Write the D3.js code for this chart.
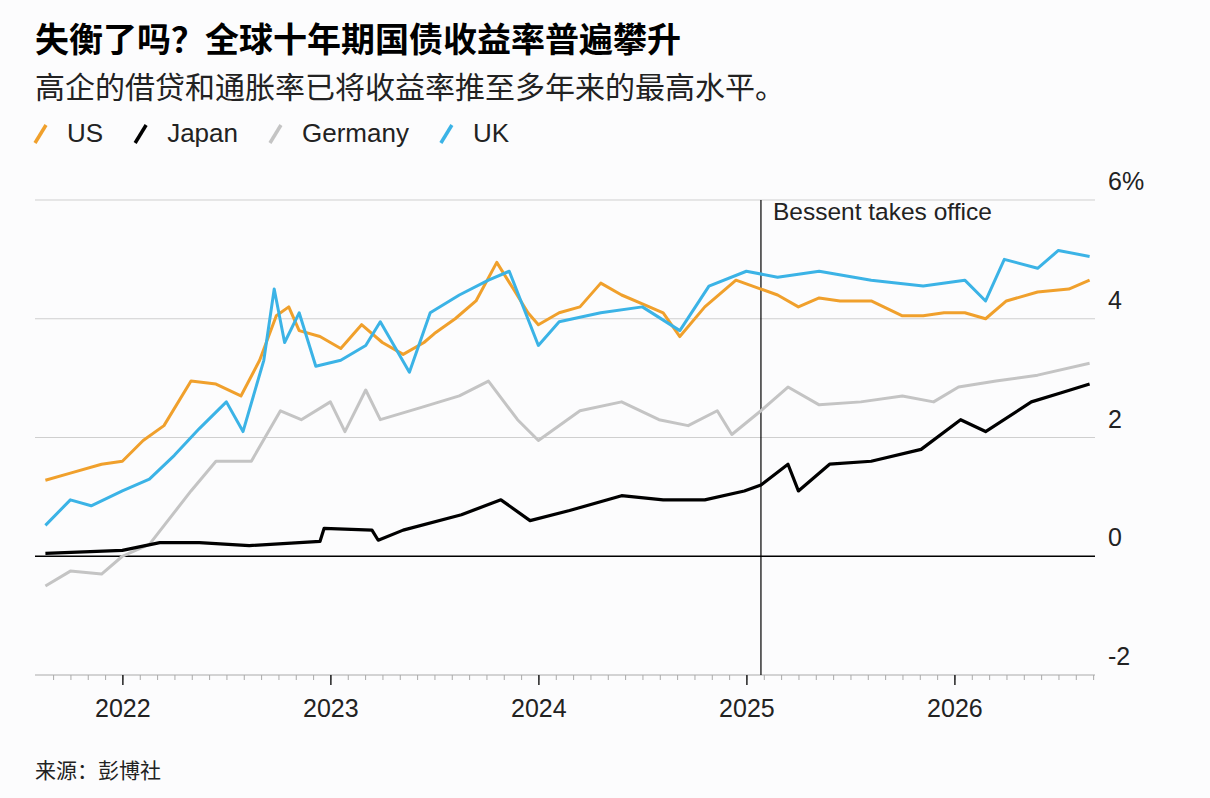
<!DOCTYPE html>
<html>
<head>
<meta charset="utf-8">
<style>
  body { margin: 0; background: #fcfcfd; }
  text { font-family: "Liberation Sans", "Noto Sans CJK SC", sans-serif; }
</style>
</head>
<body>
<script src="https://cdn.jsdelivr.net/npm/d3@7/dist/d3.min.js"></script>
<script>
// data: decimal years + 10y yields (%)
var yearTicks = [2022, 2023, 2024, 2025, 2026];
var yTicks = [6, 4, 2, 0, -2];

var usT = [2021.63, 2021.75, 2021.9, 2022.0, 2022.1, 2022.2, 2022.33, 2022.45, 2022.57, 2022.66, 2022.74, 2022.8, 2022.85, 2022.95, 2023.05, 2023.15, 2023.25, 2023.35, 2023.45, 2023.5, 2023.6, 2023.7, 2023.8, 2023.88, 2023.95, 2024.0, 2024.1, 2024.2, 2024.3, 2024.4, 2024.5, 2024.6, 2024.68, 2024.8, 2024.95, 2025.07, 2025.15, 2025.25, 2025.35, 2025.45, 2025.6, 2025.75, 2025.85, 2025.95, 2026.05, 2026.15, 2026.25, 2026.4, 2026.55, 2026.65];
var usV = [1.28, 1.4, 1.55, 1.6, 1.95, 2.2, 2.95, 2.9, 2.7, 3.3, 4.05, 4.2, 3.8, 3.7, 3.5, 3.9, 3.6, 3.4, 3.6, 3.75, 4.0, 4.3, 4.95, 4.5, 4.1, 3.9, 4.1, 4.2, 4.6, 4.4, 4.25, 4.1, 3.7, 4.2, 4.65, 4.5, 4.4, 4.2, 4.35, 4.3, 4.3, 4.05, 4.05, 4.1, 4.1, 4.0, 4.3, 4.45, 4.5, 4.65];

var ukT = [2021.63, 2021.75, 2021.85, 2022.0, 2022.13, 2022.25, 2022.37, 2022.5, 2022.58, 2022.68, 2022.73, 2022.78, 2022.85, 2022.93, 2023.05, 2023.17, 2023.24, 2023.38, 2023.48, 2023.62, 2023.76, 2023.86, 2024.0, 2024.1, 2024.3, 2024.5, 2024.68, 2024.82, 2025.0, 2025.15, 2025.35, 2025.6, 2025.85, 2026.05, 2026.15, 2026.24, 2026.4, 2026.5, 2026.65];
var ukV = [0.52, 0.95, 0.85, 1.1, 1.3, 1.7, 2.15, 2.6, 2.1, 3.3, 4.5, 3.6, 4.1, 3.2, 3.3, 3.55, 3.95, 3.1, 4.1, 4.4, 4.65, 4.8, 3.55, 3.95, 4.1, 4.2, 3.8, 4.55, 4.8, 4.7, 4.8, 4.65, 4.55, 4.65, 4.3, 5.0, 4.85, 5.15, 5.05];

var deT = [2021.63, 2021.75, 2021.9, 2022.0, 2022.13, 2022.33, 2022.45, 2022.62, 2022.76, 2022.86, 2023.0, 2023.07, 2023.17, 2023.24, 2023.43, 2023.62, 2023.76, 2023.9, 2024.0, 2024.2, 2024.4, 2024.58, 2024.72, 2024.86, 2024.93, 2025.07, 2025.2, 2025.35, 2025.55, 2025.75, 2025.9, 2026.02, 2026.2, 2026.4, 2026.65];
var deV = [-0.5, -0.25, -0.3, 0.0, 0.2, 1.1, 1.6, 1.6, 2.45, 2.3, 2.6, 2.1, 2.8, 2.3, 2.5, 2.7, 2.95, 2.3, 1.95, 2.45, 2.6, 2.3, 2.2, 2.45, 2.05, 2.45, 2.85, 2.55, 2.6, 2.7, 2.6, 2.85, 2.95, 3.05, 3.25];

var jpT = [2021.63, 2022.0, 2022.18, 2022.37, 2022.61, 2022.95, 2022.97, 2023.2, 2023.23, 2023.35, 2023.63, 2023.82, 2023.96, 2024.15, 2024.4, 2024.6, 2024.8, 2024.99, 2025.07, 2025.2, 2025.25, 2025.4, 2025.6, 2025.84, 2026.03, 2026.15, 2026.37, 2026.51, 2026.65];
var jpV = [0.05, 0.1, 0.23, 0.23, 0.18, 0.25, 0.47, 0.44, 0.27, 0.44, 0.7, 0.95, 0.6, 0.77, 1.02, 0.95, 0.95, 1.1, 1.2, 1.55, 1.1, 1.55, 1.6, 1.8, 2.3, 2.1, 2.6, 2.75, 2.9];

var series = [
  { name: "Germany", t: deT, v: deV, color: "#c4c4c4" },
  { name: "US", t: usT, v: usV, color: "#f0a02c" },
  { name: "UK", t: ukT, v: ukV, color: "#3bb3e6" },
  { name: "Japan", t: jpT, v: jpV, color: "#000000" }
];
var legendItems = [
  { name: "US", color: "#f0a02c" },
  { name: "Japan", color: "#000000" },
  { name: "Germany", color: "#c4c4c4" },
  { name: "UK", color: "#3bb3e6" }
];

var W = 1210, H = 798;
var svg = d3.select("body").append("svg").attr("width", W).attr("height", H);

var x = d3.scaleLinear().domain([2021.58, 2026.7]).range([35, 1100]);
var y = d3.scaleLinear().domain([-2, 6]).range([675, 200]);

// titles
svg.append("text").attr("x", 35).attr("y", 52).attr("font-size", "34px").attr("font-weight", "bold")
  .text("失衡了吗？全球十年期国债收益率普遍攀升");
svg.append("text").attr("x", 35).attr("y", 98).attr("font-size", "30px").attr("fill", "#222")
  .text("高企的借贷和通胀率已将收益率推至多年来的最高水平。");

// legend
var lx = 35;
legendItems.forEach(function (d) {
  svg.append("line").attr("x1", lx).attr("y1", 143).attr("x2", lx + 11).attr("y2", 125)
    .attr("stroke", d.color).attr("stroke-width", 3.5);
  var t = svg.append("text").attr("x", lx + 32).attr("y", 142).attr("font-size", "26px").attr("fill", "#222").text(d.name);
  lx += 32 + t.node().getComputedTextLength() + 32;
});

// grid
svg.append("g").selectAll("line").data(yTicks.filter(function (d) { return d !== -2; })).enter().append("line")
  .attr("x1", 35).attr("x2", 1095)
  .attr("y1", function (d) { return y(d); }).attr("y2", function (d) { return y(d); })
  .attr("stroke", function (d) { return d === 0 ? "#000" : "#cfcfcf"; })
  .attr("stroke-width", function (d) { return d === 0 ? 1.5 : 1; });

svg.append("g").selectAll("text").data(yTicks).enter().append("text")
  .attr("x", 1108)
  .attr("y", function (d) { return y(d) - 10; })
  .attr("font-size", "25px").attr("fill", "#222")
  .text(function (d) { return d === 6 ? "6%" : d; });

// x axis
var months = d3.range(2021.667, 2026.7, 1 / 12);
var xAxis = d3.axisBottom(x).tickValues(months).tickSize(5).tickFormat("");
var gx = svg.append("g").attr("transform", "translate(0,675)").call(xAxis);
gx.select(".domain").attr("stroke", "#aaa").attr("d", "M35,0H1095");
gx.selectAll(".tick line").attr("stroke", "#aaa");
var gy = svg.append("g").attr("transform", "translate(0,675)")
  .call(d3.axisBottom(x).tickValues(yearTicks).tickSize(10).tickFormat(d3.format("d")));
gy.select(".domain").remove();
gy.selectAll(".tick line").attr("stroke", "#222").attr("stroke-width", 1.5);
gy.selectAll(".tick text").attr("font-size", "25px").attr("fill", "#222").attr("dy", "1.15em")
  .attr("font-family", "Liberation Sans, sans-serif");

// event line
svg.append("line").attr("x1", x(2025.07)).attr("x2", x(2025.07)).attr("y1", 200).attr("y2", 675)
  .attr("stroke", "#000").attr("stroke-width", 1.2);
svg.append("text").attr("x", x(2025.07) + 12).attr("y", 220).attr("font-size", "24.5px").attr("fill", "#222")
  .text("Bessent takes office");

// lines
var line = d3.line().x(function (d) { return x(d[0]); }).y(function (d) { return y(d[1]); });
series.forEach(function (s) {
  svg.append("path").datum(d3.zip(s.t, s.v)).attr("d", line)
    .attr("fill", "none").attr("stroke", s.color)
    .attr("stroke-width", s.name === "Japan" ? 3.2 : 3).attr("stroke-linejoin", "round");
});

svg.append("text").attr("x", 35).attr("y", 778).attr("font-size", "21px").attr("fill", "#222").text("来源：彭博社");
</script>
</body>
</html>
